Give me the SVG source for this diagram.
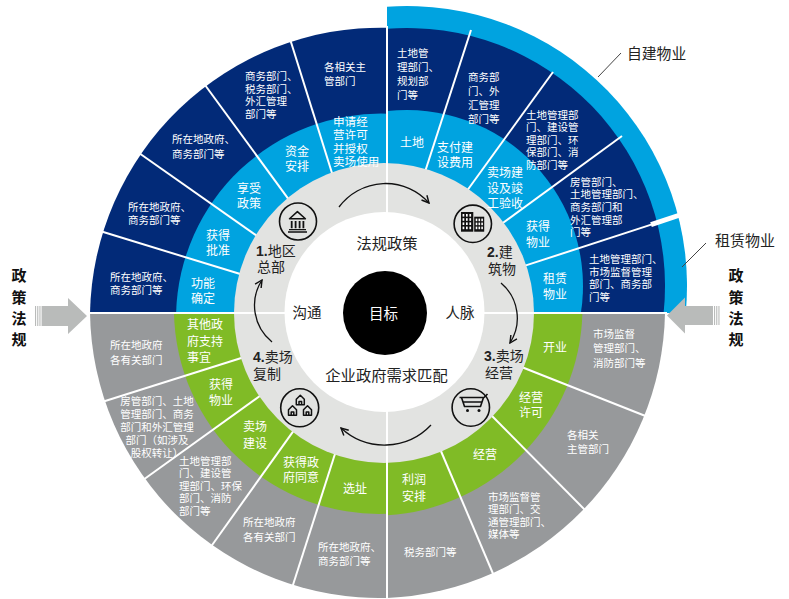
<svg xmlns="http://www.w3.org/2000/svg" width="789" height="599" viewBox="0 0 789 599">
<defs>
<style>
.o{font-family:"Noto Sans CJK SC",sans-serif;font-size:10.5px;fill:#fff;}
.m{font-family:"Noto Sans CJK SC",sans-serif;font-size:12px;fill:#fff;}
.m2{font-size:11.6px;}
.c{font-family:"Noto Sans CJK SC",sans-serif;font-size:15.3px;fill:#222;}
.s{font-family:"Noto Sans CJK SC",sans-serif;font-size:14px;fill:#222;}
.n{font-family:"Liberation Sans",Arial,sans-serif;font-weight:bold;}
.lb{font-family:"Noto Sans CJK SC",sans-serif;font-size:15px;fill:#111;font-weight:bold;}
.lt{font-family:"Noto Sans CJK SC",sans-serif;font-size:15px;fill:#222;}
.div{stroke:#fff;stroke-width:2;fill:none;}
.ic{fill:none;stroke:#111;stroke-width:1.6;}
.flow{fill:none;stroke:#111;stroke-width:1.3;marker-end:url(#ah);}
.arr{fill:#b9bbba;}
.dk{fill:#022a78;}
.lbl{fill:#00a3e0;}
.gr{fill:#97999b;}
.gn{fill:#80bb26;}
.lead{stroke:#444;stroke-width:1;}
</style>
<marker id="ah" viewBox="0 0 10 10" refX="9" refY="5" markerWidth="9" markerHeight="9" markerUnits="userSpaceOnUse" orient="auto">
<path d="M1,1 L9,5 L1,9" fill="none" stroke="#111" stroke-width="1.6"/>
</marker>
</defs>
<rect width="789" height="599" fill="#fff"/>

<g id="wheel">
<path class="lbl" d="M387 313 L387 6.7 A280 280 0 0 1 685.7 313 Z"/>
<path class="dk" d="M387 313 L387 27.7 A291 291 0 0 0 90 313 Z"/>
<path class="dk" d="M387 313 L387 28.8 A258 258 0 0 1 663.6 313 Z"/>
<path class="gr" d="M387 313 L90 313 A289 289 0 0 0 387 597.9 Z"/>
<path class="gr" d="M387 313 L387 597.9 A290.5 290.5 0 0 0 665 313 Z"/>
<path class="lbl" d="M387 313 L387 113.7 A205 205 0 0 0 176.1 313 Z"/>
<path class="lbl" d="M387 313 L387 111.1 A176 176 0 0 1 580.9 313 Z"/>
<path class="gn" d="M387 313 L174 313 A205 205 0 0 0 387 513.8 Z"/>
<path class="gn" d="M387 313 L387 515.3 A208 208 0 0 0 582.4 313 Z"/>
</g>

<g id="dividers" class="div">
<line x1="423" y1="178" x2="471" y2="30"/>
<line x1="462.5" y1="197" x2="553" y2="72"/>
<line x1="498" y1="226.5" x2="622" y2="136"/>
<line x1="521.3" y1="266.9" x2="652" y2="224.4"/>
<line x1="651" y1="224.7" x2="692" y2="211" stroke-width="5"/>
<line x1="333.8" y1="178.7" x2="290" y2="39"/>
<line x1="290.5" y1="201.8" x2="205" y2="85"/>
<line x1="257.9" y1="236.5" x2="139" y2="153"/>
<line x1="242.7" y1="274.8" x2="100" y2="231"/>
<line x1="243.7" y1="357.2" x2="102" y2="402"/>
<line x1="261.9" y1="394.5" x2="143" y2="480"/>
<line x1="295.5" y1="428.1" x2="210" y2="548"/>
<line x1="336.8" y1="448.3" x2="292" y2="588"/>
<line x1="518.4" y1="365.8" x2="648" y2="417"/>
<line x1="487.8" y1="411.7" x2="586" y2="511"/>
<line x1="438.6" y1="445.5" x2="494" y2="576"/>
</g>

<g id="core">
<circle cx="384" cy="313" r="150" fill="#e2e3e1"/>
<line x1="387" y1="26" x2="387" y2="599" class="div"/>
<line x1="85" y1="313" x2="667" y2="313" class="div"/>
<circle cx="384.5" cy="312" r="100" fill="#fff"/>
<circle cx="385" cy="313" r="42" fill="#000"/>
</g>

<g id="seg-tl1">
<text class="m m2"><tspan x="333" y="126">申请经</tspan><tspan x="333" y="139.3">营许可</tspan><tspan x="333" y="152.6">并授权</tspan><tspan x="333" y="165.9">卖场使用</tspan></text>
<text class="o"><tspan x="324" y="70.8">各相关主</tspan><tspan x="324" y="84.8">管部门</tspan></text>
</g>
<g id="seg-tl2">
<text class="m" text-anchor="middle"><tspan x="297" y="156.3">资金</tspan><tspan x="297" y="171.3">安排</tspan></text>
<text class="o"><tspan x="245" y="79.8">商务部门、</tspan><tspan x="245" y="92.6">税务部门、</tspan><tspan x="245" y="105.4">外汇管理</tspan><tspan x="245" y="118.2">部门等</tspan></text>
</g>
<g id="seg-tl3">
<text class="m" text-anchor="middle"><tspan x="249" y="193.3">享受</tspan><tspan x="249" y="208.3">政策</tspan></text>
<text class="o"><tspan x="172" y="142.8">所在地政府、</tspan><tspan x="172" y="157.8">商务部门等</tspan></text>
</g>
<g id="seg-tl4">
<text class="m" text-anchor="middle"><tspan x="218" y="240.3">获得</tspan><tspan x="218" y="255.3">批准</tspan></text>
<text class="o"><tspan x="128" y="210.8">所在地政府、</tspan><tspan x="128" y="224.3">商务部门等</tspan></text>
</g>
<g id="seg-tl5">
<text class="m" text-anchor="middle"><tspan x="203" y="288.3">功能</tspan><tspan x="203" y="303.3">确定</tspan></text>
<text class="o"><tspan x="110" y="280.8">所在地政府、</tspan><tspan x="110" y="294.3">商务部门等</tspan></text>
</g>

<g id="seg-tr1">
<text class="m" text-anchor="middle"><tspan x="412" y="147.3">土地</tspan></text>
<text class="o"><tspan x="397" y="56.8">土地管</tspan><tspan x="397" y="70.8">理部门、</tspan><tspan x="397" y="84.8">规划部</tspan><tspan x="397" y="98.8">门等</tspan></text>
</g>
<g id="seg-tr2">
<text class="m"><tspan x="437" y="152.3">支付建</tspan><tspan x="437" y="167.3">设费用</tspan></text>
<text class="o"><tspan x="468" y="80.8">商务部</tspan><tspan x="468" y="94.8">门、外</tspan><tspan x="468" y="108.8">汇管理</tspan><tspan x="468" y="122.8">部门等</tspan></text>
</g>
<g id="seg-tr3">
<text class="m"><tspan x="487" y="177.3">卖场建</tspan><tspan x="487" y="193.3">设及竣</tspan><tspan x="487" y="207.8">工验收</tspan></text>
<text class="o"><tspan x="526" y="118.6">土地管理部</tspan><tspan x="526" y="131.2">门、建设管</tspan><tspan x="526" y="143.8">理部门、环</tspan><tspan x="526" y="156.4">保部门、消</tspan><tspan x="526" y="169">防部门等</tspan></text>
</g>
<g id="seg-tr4">
<text class="m"><tspan x="526" y="231.3">获得</tspan><tspan x="526" y="247.3">物业</tspan></text>
<text class="o"><tspan x="570" y="185.8">房管部门、</tspan><tspan x="570" y="198.4">土地管理部门、</tspan><tspan x="570" y="211">商务部门和</tspan><tspan x="570" y="223.6">外汇管理部</tspan><tspan x="570" y="236.2">门等</tspan></text>
</g>
<g id="seg-tr5">
<text class="m"><tspan x="543" y="283.3">租赁</tspan><tspan x="543" y="299.3">物业</tspan></text>
<text class="o"><tspan x="589" y="262.8">土地管理部门、</tspan><tspan x="589" y="275.5">市场监督管理</tspan><tspan x="589" y="288.2">部门、商务部</tspan><tspan x="589" y="300.9">门等</tspan></text>
</g>

<g id="seg-bl1">
<text class="m"><tspan x="187" y="329.3">其他政</tspan><tspan x="187" y="346.3">府支持</tspan><tspan x="187" y="362.3">事宜</tspan></text>
<text class="o"><tspan x="110" y="348.8">所在地政府</tspan><tspan x="110" y="363.8">各有关部门</tspan></text>
</g>
<g id="seg-bl2">
<text class="m"><tspan x="209" y="389.3">获得</tspan><tspan x="209" y="405.3">物业</tspan></text>
<text class="o" text-anchor="middle"><tspan x="157" y="405.3">房管部门、土地</tspan><tspan x="157" y="418.1">管理部门、商务</tspan><tspan x="157" y="430.9">部门和外汇管理</tspan><tspan x="157" y="443.7">部门（如涉及</tspan><tspan x="157" y="456.5">股权转让）</tspan></text>
</g>
<g id="seg-bl3">
<text class="m"><tspan x="243" y="431.3">卖场</tspan><tspan x="243" y="448.3">建设</tspan></text>
<text class="o"><tspan x="179" y="464.8">土地管理部</tspan><tspan x="179" y="477.3">门、建设管</tspan><tspan x="179" y="489.8">理部门、环保</tspan><tspan x="179" y="502.3">部门、消防</tspan><tspan x="179" y="514.8">部门等</tspan></text>
</g>
<g id="seg-bl4">
<text class="m"><tspan x="283" y="467.3">获得政</tspan><tspan x="283" y="482.3">府同意</tspan></text>
<text class="o"><tspan x="243" y="525.8">所在地政府</tspan><tspan x="243" y="540.8">各有关部门</tspan></text>
</g>
<g id="seg-bl5">
<text class="m"><tspan x="343" y="493.3">选址</tspan></text>
<text class="o"><tspan x="318" y="550.8">所在地政府、</tspan><tspan x="318" y="564.8">商务部门等</tspan></text>
</g>

<g id="seg-br1">
<text class="m"><tspan x="543" y="352.3">开业</tspan></text>
<text class="o"><tspan x="593" y="337.8">市场监督</tspan><tspan x="593" y="352.3">管理部门、</tspan><tspan x="593" y="366.8">消防部门等</tspan></text>
</g>
<g id="seg-br2">
<text class="m"><tspan x="519" y="402.3">经营</tspan><tspan x="519" y="417.3">许可</tspan></text>
<text class="o"><tspan x="567" y="438.8">各相关</tspan><tspan x="567" y="452.8">主管部门</tspan></text>
</g>
<g id="seg-br3">
<text class="m"><tspan x="473" y="459.3">经营</tspan></text>
<text class="o"><tspan x="488" y="500.8">市场监督管</tspan><tspan x="488" y="513.3">理部门、交</tspan><tspan x="488" y="525.8">通管理部门、</tspan><tspan x="488" y="538.3">媒体等</tspan></text>
</g>
<g id="seg-br4">
<text class="m"><tspan x="402" y="484.3">利润</tspan><tspan x="402" y="501.3">安排</tspan></text>
<text class="o"><tspan x="404" y="555.8">税务部门等</tspan></text>
</g>

<g id="center-texts">
<text class="c" x="387" y="248.5" text-anchor="middle">法规政策</text>
<text class="c" x="386.5" y="380.5" text-anchor="middle">企业政府需求匹配</text>
<text class="c" x="307" y="317.7" text-anchor="middle" style="font-size:14.5px">沟通</text>
<text class="c" x="460" y="317.7" text-anchor="middle" style="font-size:14.5px">人脉</text>
<text class="c" x="383.5" y="319.2" text-anchor="middle" style="font-size:14.5px;fill:#fff">目标</text>
</g>

<g id="step1">
<circle class="ic" cx="298" cy="221.5" r="18.5"/>
<path d="M289.5 218.8 L297.4 211.6 L305.4 218.8 Z" fill="none" stroke="#111" stroke-width="1.5" stroke-linejoin="round"/>
<path d="M291.7 221 V228.3 M295.6 221 V228.3 M299.6 221 V228.3 M303.4 221 V228.3" stroke="#111" stroke-width="1.8"/>
<path d="M289 229.6 H306 M288 232 H307" stroke="#111" stroke-width="1.4"/>
<text class="s"><tspan x="256" y="255.5"><tspan class="n">1.</tspan>地区</tspan><tspan x="257" y="272">总部</tspan></text>
</g>
<g id="step2">
<circle class="ic" cx="472.8" cy="223.8" r="18.7"/>
<rect x="461" y="212" width="12.3" height="19.7" fill="#111"/>
<rect x="474.2" y="216.7" width="10" height="15" fill="#111"/>
<g fill="#fff">
<rect x="462.6" y="214" width="1.7" height="2.6"/><rect x="466" y="214" width="1.7" height="2.6"/><rect x="469.4" y="214" width="1.7" height="2.6"/>
<rect x="462.6" y="218.2" width="1.7" height="2.6"/><rect x="466" y="218.2" width="1.7" height="2.6"/><rect x="469.4" y="218.2" width="1.7" height="2.6"/>
<rect x="462.6" y="222.4" width="1.7" height="2.6"/><rect x="466" y="222.4" width="1.7" height="2.6"/><rect x="469.4" y="222.4" width="1.7" height="2.6"/>
<rect x="462.6" y="226.6" width="1.7" height="2.6"/><rect x="466" y="226.6" width="1.7" height="2.6"/><rect x="469.4" y="226.6" width="1.7" height="2.6"/>
<rect x="475.7" y="218.6" width="1.6" height="2.6"/><rect x="478.5" y="218.6" width="1.6" height="2.6"/><rect x="481.3" y="218.6" width="1.6" height="2.6"/>
<rect x="475.7" y="222.6" width="1.6" height="2.6"/><rect x="478.5" y="222.6" width="1.6" height="2.6"/><rect x="481.3" y="222.6" width="1.6" height="2.6"/>
<rect x="475.7" y="226.6" width="1.6" height="2.6"/><rect x="478.5" y="226.6" width="1.6" height="2.6"/><rect x="481.3" y="226.6" width="1.6" height="2.6"/>
</g>
<text class="s"><tspan x="487" y="257"><tspan class="n">2.</tspan>建</tspan><tspan x="488" y="274.2">筑物</tspan></text>
</g>
<g id="step3">
<circle class="ic" cx="470.8" cy="407.5" r="18.7"/>
<path d="M459.5 397.5 H484 L487.5 394 M461.5 397.5 L464.5 406.5 H480.5 L483.5 397.5 M462.8 402 H482" fill="none" stroke="#111" stroke-width="1.6" stroke-linejoin="round"/>
<circle cx="467.5" cy="410.6" r="1.5" fill="#111"/>
<circle cx="479" cy="410.6" r="1.5" fill="#111"/>
<text class="s"><tspan x="484" y="360.5"><tspan class="n">3.</tspan>卖场</tspan><tspan x="485" y="377.8">经营</tspan></text>
</g>
<g id="step4">
<circle class="ic" cx="299.7" cy="407.8" r="19"/>
<path d="M296.3 404.8 V399.2 L300.3 395.2 L304.3 399.2 V404.8 Z M299 404.8 V401.5 H301.6 V404.8 M288.5 415.3 V409.7 L292.5 405.7 L296.5 409.7 V415.3 Z M291.2 415.3 V412 H293.8 V415.3 M303.5 415.3 V409.7 L307.5 405.7 L311.5 409.7 V415.3 Z M306.2 415.3 V412 H308.8 V415.3" fill="none" stroke="#111" stroke-width="1.5" stroke-linejoin="round"/>
<text class="s"><tspan x="253" y="361.8"><tspan class="n">4.</tspan>卖场</tspan><tspan x="253" y="378.6">复制</tspan></text>
</g>

<g id="connectors">
<path class="flow" d="M339 207 A58 58 0 0 1 429 203"/>
<path class="flow" d="M501 283 A46 46 0 0 1 510 343"/>
<path class="flow" d="M431 425 A64 64 0 0 1 341 428"/>
<path class="flow" d="M272 342 A47 47 0 0 1 262 280"/>
</g>

<g id="arrow-left" class="arr">
<rect x="35" y="306" width="1.1" height="20"/>
<rect x="37.2" y="306" width="1.1" height="20"/>
<rect x="39.4" y="306" width="1.1" height="20"/>
<path d="M41.6 306 H68 V298 L87 316 L68 334 V326 H41.6 Z"/>
</g>
<g id="arrow-right" class="arr">
<path d="M713 306 H685 V297.5 L667 315.5 L685 333.5 V325 H713 Z"/>
<rect x="714" y="306" width="1.1" height="19"/>
<rect x="716.2" y="306" width="1.1" height="19"/>
<rect x="718.4" y="306" width="1.1" height="19"/>
</g>

<g id="label-left">
<text class="lb" text-anchor="middle"><tspan x="19" y="281.4">政</tspan><tspan x="19" y="302.9">策</tspan><tspan x="19" y="324.4">法</tspan><tspan x="19" y="345">规</tspan></text>
</g>
<g id="label-right">
<text class="lb" text-anchor="middle"><tspan x="736" y="281.4">政</tspan><tspan x="736" y="302.9">策</tspan><tspan x="736" y="324.4">法</tspan><tspan x="736" y="345">规</tspan></text>
</g>
<g id="label-self-built">
<line class="lead" x1="598" y1="77" x2="621" y2="53"/>
<text class="lt" x="627" y="58.6" style="font-size:14.8px">自建物业</text>
</g>
<g id="label-lease">
<line class="lead" x1="682" y1="267" x2="706" y2="243"/>
<text class="lt" x="715" y="245.5">租赁物业</text>
</g>
</svg>
